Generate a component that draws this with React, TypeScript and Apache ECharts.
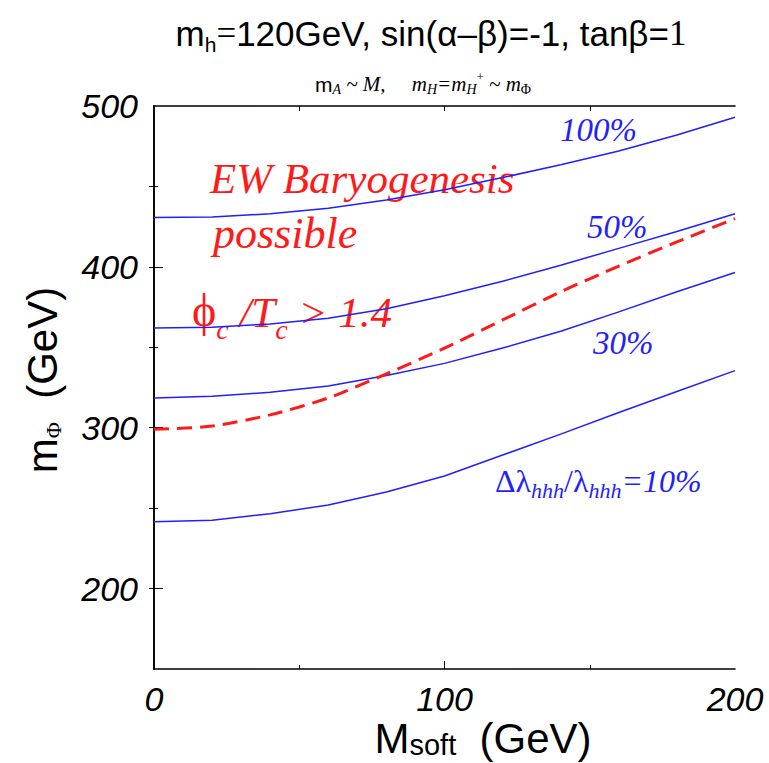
import React, { useEffect, useRef } from 'react';
import * as echarts from 'echarts';

const xValues = [0, 20, 40, 60, 80, 100, 120, 140, 160, 180, 200];
const curve100 = [430.7, 431, 433, 436.5, 441.5, 448, 455.5, 463.5, 472, 482, 493];
const curve50 = [362, 362.5, 364.5, 368, 374, 382, 391, 401, 411.5, 422, 433];
const curve30 = [318.5, 319.5, 322, 326, 332.5, 340, 349.5, 360, 372, 384.5, 396.5];
const curve10 = [241.5, 242.5, 246.5, 252, 260, 270, 283, 296, 309.5, 322.5, 335.5];
const curveEWBG = [299, 301, 308, 318.5, 333.5, 349.5, 367, 384.5, 400.5, 415.5, 430];

const xTickLabels = [0, 100, 200];
const xMajorTicks = [100];
const xMinorTicks = [50, 150];
const xTopTicks = [50, 100, 150];
const yTickLabels = [200, 300, 400, 500];
const yMajorTicks = [200, 300, 400];
const yMinorTicks = [250, 350, 450];
const yRightTicks = [200, 250, 300, 350, 400, 450];

const SANS = 'Liberation Sans';
const SERIF = 'Liberation Serif';
const BLUE = '#1f1fff';
const RED = '#ff1a1a';

const pairs = (ys: number[]) => xValues.map((x, i) => [x, ys[i]]);

export default function App() {
  const ref = useRef<HTMLDivElement>(null);
  useEffect(() => {
    if (!ref.current) return;
    const chart = echarts.init(ref.current, undefined, { renderer: 'svg' });
    const gridRect = { left: 154, right: 34, top: 106, bottom: 94 };
    const axisLine = { show: true, lineStyle: { color: '#000', width: 1.6 } };
    const noLabel = { show: false };
    const noSplit = { show: false };
    const tickStyle = { color: '#000', width: 1 };
    const labelStyle = {
      fontSize: 34,
      fontStyle: 'italic' as const,
      fontFamily: SANS,
      color: '#000',
    };
    const blueLine = (data: number[]) => ({
      type: 'line',
      xAxisIndex: 0,
      yAxisIndex: 0,
      data: pairs(data),
      showSymbol: false,
      symbol: 'none',
      lineStyle: { color: BLUE, width: 1.5 },
    });
    chart.setOption({
      animation: false,
      grid: [gridRect, gridRect, gridRect].map((g) => ({ ...g, containLabel: false })),
      xAxis: [
        {
          type: 'value', gridIndex: 0, position: 'bottom', min: 0, max: 200, interval: 50,
          axisLine,
          axisTick: { show: true, inside: true, length: 8, customValues: xMajorTicks, lineStyle: tickStyle },
          axisLabel: { ...labelStyle, customValues: xTickLabels, margin: 13 },
          splitLine: noSplit,
        },
        {
          type: 'value', gridIndex: 1, position: 'bottom', min: 0, max: 200, interval: 50,
          axisLine: { show: false },
          axisTick: { show: true, inside: true, length: 4, customValues: xMinorTicks, lineStyle: tickStyle },
          axisLabel: noLabel, splitLine: noSplit,
        },
        {
          type: 'value', gridIndex: 2, position: 'top', min: 0, max: 200, interval: 50,
          axisLine,
          axisTick: { show: true, inside: true, length: 5, customValues: xTopTicks, lineStyle: tickStyle },
          axisLabel: noLabel, splitLine: noSplit,
        },
      ],
      yAxis: [
        {
          type: 'value', gridIndex: 0, position: 'left', min: 150, max: 500, interval: 50,
          axisLine,
          axisTick: { show: true, inside: true, length: 9, customValues: yMajorTicks, lineStyle: tickStyle },
          axisLabel: { ...labelStyle, customValues: yTickLabels, margin: 16 },
          splitLine: noSplit,
        },
        {
          type: 'value', gridIndex: 1, position: 'left', min: 150, max: 500, interval: 50,
          axisLine: { show: false },
          axisTick: { show: true, inside: true, length: 4, customValues: yMinorTicks, lineStyle: tickStyle },
          axisLabel: noLabel, splitLine: noSplit,
        },
        {
          type: 'value', gridIndex: 2, position: 'right', min: 150, max: 500, interval: 50,
          axisLine,
          axisTick: { show: true, inside: true, length: 5, customValues: yRightTicks, lineStyle: tickStyle },
          axisLabel: noLabel, splitLine: noSplit,
        },
      ],
      series: [
        blueLine(curve100),
        blueLine(curve50),
        blueLine(curve30),
        blueLine(curve10),
        {
          type: 'line',
          xAxisIndex: 0,
          yAxisIndex: 0,
          data: pairs(curveEWBG),
          showSymbol: false,
          symbol: 'none',
          smooth: 0.25,
          lineStyle: { color: RED, width: 3, type: [15, 8] },
        },
      ],
      graphic: [
        {
          type: 'text', x: 431, y: 33,
          style: {
            text: '{s|m}{sub|h}{e|=}{s|120GeV, sin(α–β)=-1, tanβ=}{e|1}',
            align: 'center', verticalAlign: 'middle',
            rich: {
              s: { fontFamily: SANS, fontSize: 35, fill: '#000', lineHeight: 35, verticalAlign: 'bottom' },
              e: { fontFamily: SERIF, fontSize: 35, fill: '#000', lineHeight: 35, verticalAlign: 'bottom' },
              sub: { fontFamily: SANS, fontSize: 21, fill: '#000', lineHeight: 12, height: 13, verticalAlign: 'bottom' },
            },
          },
        },
        {
          type: 'text', x: 423, y: 84,
          style: {
            text: '{s|m}{sub|A}{i| ~ M,     m}{sub|H}{i|=m}{sub|H}{sup|+}{i| ~ m}{psub|Φ}',
            align: 'center', verticalAlign: 'middle',
            rich: {
              s: { fontFamily: SANS, fontSize: 21, fill: '#000', lineHeight: 21, verticalAlign: 'bottom' },
              i: { fontFamily: SERIF, fontStyle: 'italic', fontSize: 21, fill: '#000', lineHeight: 21, verticalAlign: 'bottom' },
              sub: { fontFamily: SERIF, fontStyle: 'italic', fontSize: 14, fill: '#000', lineHeight: 10, height: 11, verticalAlign: 'bottom' },
              sup: { fontFamily: SERIF, fontSize: 13, fill: '#000', lineHeight: 6, height: 6.5, verticalAlign: 'top' },
              psub: { fontFamily: SERIF, fontSize: 14, fill: '#000', lineHeight: 10, height: 11, verticalAlign: 'bottom' },
            },
          },
        },
        {
          type: 'text', x: 42, y: 380, rotation: Math.PI / 2,
          style: {
            text: '{s|m}{sub|Φ}{s|  (GeV)}',
            align: 'center', verticalAlign: 'middle',
            rich: {
              s: { fontFamily: SANS, fontSize: 42, fill: '#000', lineHeight: 42, verticalAlign: 'bottom' },
              sub: { fontFamily: SERIF, fontSize: 22, fill: '#000', lineHeight: 18, height: 18.7, verticalAlign: 'bottom' },
            },
          },
        },
        {
          type: 'text', x: 483, y: 738,
          style: {
            text: '{s|M}{m|soft}{s|  (GeV)}',
            align: 'center', verticalAlign: 'middle',
            rich: {
              s: { fontFamily: SANS, fontSize: 42, fill: '#000', lineHeight: 42, verticalAlign: 'bottom' },
              m: { fontFamily: SANS, fontSize: 29, fill: '#000', lineHeight: 29, height: 29, verticalAlign: 'bottom' },
            },
          },
        },
        {
          type: 'text', x: 210, y: 178,
          style: { text: 'EW Baryogenesis', fontFamily: SERIF, fontStyle: 'italic', fontSize: 43, fill: RED, align: 'left', verticalAlign: 'middle' },
        },
        {
          type: 'text', x: 213, y: 233,
          style: { text: 'possible', fontFamily: SERIF, fontStyle: 'italic', fontSize: 44, fill: RED, align: 'left', verticalAlign: 'middle' },
        },
        {
          type: 'text', x: 192, y: 312,
          style: {
            text: '{p|ϕ}{sub|c}{t| /T}{sub|c}{t| > 1.4}',
            align: 'left', verticalAlign: 'middle',
            rich: {
              p: { fontFamily: SERIF, fontSize: 46, fill: RED, lineHeight: 43, verticalAlign: 'bottom' },
              t: { fontFamily: SERIF, fontStyle: 'italic', fontSize: 43, fill: RED, lineHeight: 43, verticalAlign: 'bottom' },
              sub: { fontFamily: SERIF, fontStyle: 'italic', fontSize: 28, fill: RED, lineHeight: 7, height: 7.3, verticalAlign: 'bottom' },
            },
          },
        },
        {
          type: 'text', x: 560, y: 130,
          style: { text: '100%', fontFamily: SERIF, fontStyle: 'italic', fontSize: 33, fill: BLUE, align: 'left', verticalAlign: 'middle' },
        },
        {
          type: 'text', x: 587, y: 227,
          style: { text: '50%', fontFamily: SERIF, fontStyle: 'italic', fontSize: 33, fill: BLUE, align: 'left', verticalAlign: 'middle' },
        },
        {
          type: 'text', x: 593, y: 343,
          style: { text: '30%', fontFamily: SERIF, fontStyle: 'italic', fontSize: 33, fill: BLUE, align: 'left', verticalAlign: 'middle' },
        },
        {
          type: 'text', x: 495, y: 481,
          style: {
            text: '{g|Δλ}{sub|hhh}{g|/λ}{sub|hhh}{t|=10%}',
            align: 'left', verticalAlign: 'middle',
            rich: {
              g: { fontFamily: SERIF, fontSize: 32, fill: BLUE, lineHeight: 32, verticalAlign: 'bottom' },
              t: { fontFamily: SERIF, fontStyle: 'italic', fontSize: 32, fill: BLUE, lineHeight: 32, verticalAlign: 'bottom' },
              sub: { fontFamily: SERIF, fontStyle: 'italic', fontSize: 22, fill: BLUE, lineHeight: 14, height: 14, verticalAlign: 'bottom' },
            },
          },
        },
      ],
    });
    return () => chart.dispose();
  }, []);
  return (
    <div
      ref={ref}
      style={{ position: 'absolute', left: 0, top: 0, width: 769, height: 763, background: '#fff' }}
    />
  );
}
